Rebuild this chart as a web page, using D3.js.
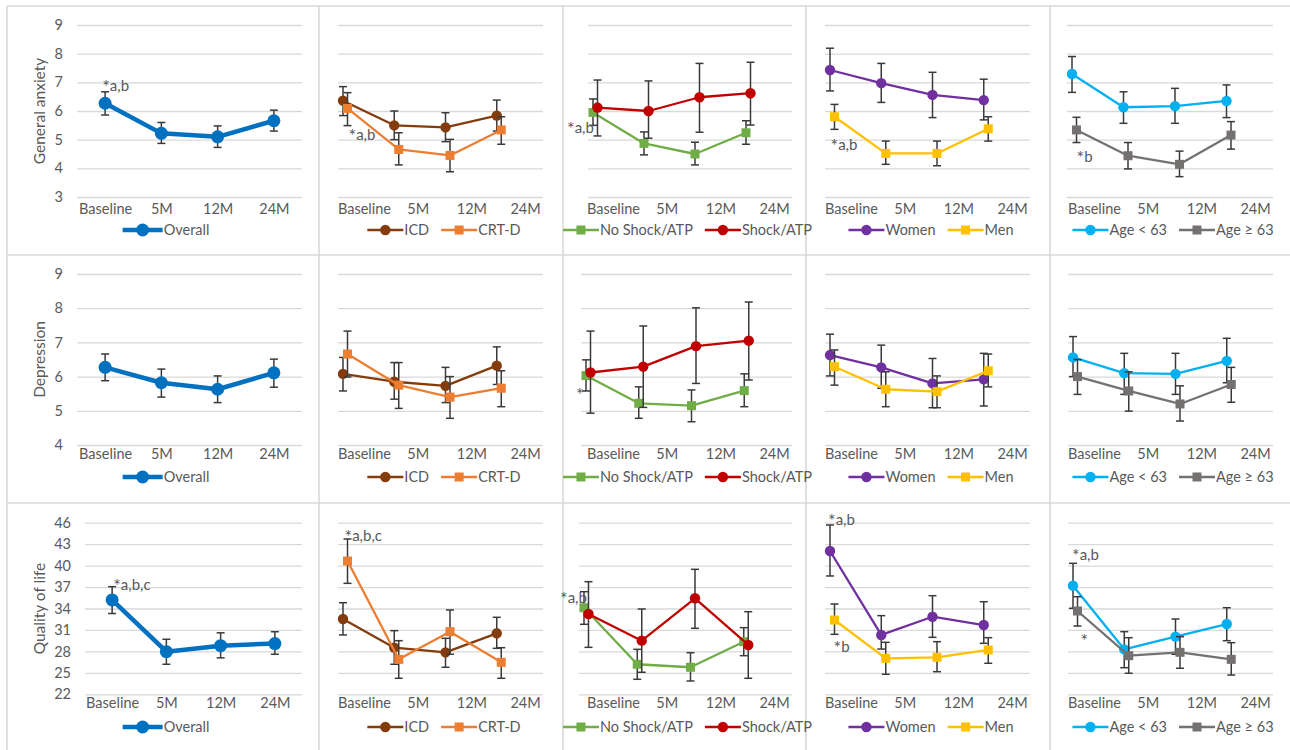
<!DOCTYPE html>
<html>
<head>
<meta charset="utf-8">
<script src="https://cdn.jsdelivr.net/npm/d3@7"></script>
<style>
  body { margin: 0; background: #fff; }
  text { font-family: Lato, "Open Sans", sans-serif; fill: #595959; }
</style>
</head>
<body>
<svg id="chart" width="1290" height="750"></svg>
<script>
const categories = ["Baseline", "5M", "12M", "24M"];
const outcomes = ["General anxiety", "Depression", "Quality of life"];
const yDomains = [[3, 9], [4, 9], [22, 46]];
const yStep = [1, 1, 3];
const groups = [
  ["Overall"],
  ["ICD", "CRT-D"],
  ["No Shock/ATP", "Shock/ATP"],
  ["Women", "Men"],
  ["Age < 63", "Age \u2265 63"]
];

// [series, mean, lower, upper]
const anxiety = [
  ["Overall",      [6.27, 5.22, 5.10, 5.66], [5.86, 4.87, 4.73, 5.30], [6.67, 5.60, 5.48, 6.03]],
  ["ICD",          [6.36, 5.50, 5.43, 5.84], [5.84, 5.00, 4.93, 5.30], [6.85, 6.00, 5.94, 6.38]],
  ["CRT-D",        [6.09, 4.66, 4.45, 5.34], [5.49, 4.12, 3.88, 4.84], [6.64, 5.24, 5.01, 5.80]],
  ["No Shock/ATP", [5.95, 4.87, 4.50, 5.24], [5.50, 4.47, 4.12, 4.84], [6.42, 5.27, 4.91, 5.66]],
  ["Shock/ATP",    [6.12, 6.00, 6.48, 6.62], [5.13, 5.05, 5.26, 5.51], [7.08, 7.05, 7.66, 7.70]],
  ["Women",        [7.43, 6.97, 6.56, 6.38], [6.70, 6.30, 5.77, 5.69], [8.19, 7.66, 7.35, 7.11]],
  ["Men",          [5.80, 4.52, 4.52, 5.38], [5.36, 4.14, 4.09, 4.95], [6.23, 4.95, 4.95, 5.80]],
  ["Age < 63",     [7.29, 6.13, 6.17, 6.35], [6.65, 5.57, 5.57, 5.77], [7.90, 6.67, 6.79, 6.91]],
  ["Age \u2265 63",[5.34, 4.44, 4.14, 5.16], [4.90, 3.98, 3.71, 4.67], [5.78, 4.90, 4.60, 5.63]]
];

const depression = [
  ["Overall",      [6.27, 5.82, 5.63, 6.11], [5.88, 5.40, 5.24, 5.69], [6.66, 6.22, 6.02, 6.51]],
  ["ICD",          [6.08, 5.85, 5.73, 6.32], [5.58, 5.34, 5.24, 5.77], [6.56, 6.41, 6.27, 6.87]],
  ["CRT-D",        [6.66, 5.75, 5.40, 5.66], [5.99, 5.07, 4.78, 5.12], [7.33, 6.41, 6.00, 6.17]],
  ["No Shock/ATP", [6.03, 5.22, 5.15, 5.59], [5.58, 4.78, 4.68, 5.12], [6.49, 5.70, 5.61, 6.08]],
  ["Shock/ATP",    [6.12, 6.29, 6.89, 7.05], [4.93, 5.10, 5.80, 5.90], [7.33, 7.48, 8.01, 8.18]],
  ["Women",        [6.63, 6.27, 5.80, 5.92], [6.02, 5.66, 5.09, 5.14], [7.24, 6.92, 6.53, 6.68]],
  ["Men",          [6.29, 5.63, 5.56, 6.17], [5.75, 5.12, 5.09, 5.70], [6.78, 6.14, 6.02, 6.66]],
  ["Age < 63",     [6.56, 6.10, 6.08, 6.46], [6.00, 5.48, 5.48, 5.82], [7.17, 6.68, 6.68, 7.12]],
  ["Age \u2265 63",[6.00, 5.58, 5.20, 5.77], [5.48, 4.99, 4.70, 5.25], [6.50, 6.14, 5.73, 6.27]]
];

const qualityOfLife = [
  ["Overall",      [35.2, 27.96, 28.8, 29.1],   [33.3, 26.2, 27.1, 27.6],    [37.05, 29.7, 30.6, 30.75]],
  ["ICD",          [32.53, 28.52, 27.87, 30.53], [30.3, 26.2, 25.78, 28.43], [34.81, 30.9, 29.83, 32.77]],
  ["CRT-D",        [40.64, 26.89, 30.76, 26.47], [37.52, 24.24, 27.6, 24.24], [43.72, 29.5, 33.79, 28.52]],
  ["No Shock/ATP", [34.11, 26.2, 25.78, 29.36], [31.79, 24.1, 23.86, 27.4],  [36.35, 28.29, 27.82, 31.32]],
  ["Shock/ATP",    [33.23, 29.5, 35.43, 28.9],  [28.57, 25.08, 31.23, 24.24], [37.75, 33.93, 39.48, 33.55]],
  ["Women",        [42.04, 30.3, 32.85, 31.69], [38.55, 28.33, 29.97, 29.13], [45.68, 33.0, 35.79, 34.95]],
  ["Men",          [32.39, 27.03, 27.17, 28.2], [30.39, 24.8, 25.16, 26.34], [34.63, 29.27, 29.36, 29.92]],
  ["Age < 63",     [37.19, 28.29, 30.06, 31.83], [34.03, 25.72, 27.6, 29.5], [40.32, 30.76, 32.53, 34.11]],
  ["Age \u2265 63",[33.65, 27.4, 27.87, 26.89], [31.55, 24.94, 25.64, 24.69], [35.65, 29.92, 30.06, 29.22]]
];

// significance notes: [row, col, series, category, superscript letters]
const notes = [
  [0, 0, "Overall", "Baseline", "a,b"],
  [0, 1, "CRT-D", "Baseline", "a,b"],
  [0, 2, "No Shock/ATP", "Baseline", "a,b"],
  [0, 3, "Men", "Baseline", "a,b"],
  [0, 4, "Age \u2265 63", "Baseline", "b"],
  [1, 2, "No Shock/ATP", "Baseline", ""],
  [2, 0, "Overall", "Baseline", "a,b,c"],
  [2, 1, "CRT-D", "Baseline", "a,b,c"],
  [2, 2, "No Shock/ATP", "Baseline", "a,b"],
  [2, 3, "Women", "Baseline", "a,b"],
  [2, 3, "Men", "Baseline", "b"],
  [2, 4, "Age < 63", "Baseline", "a,b"],
  [2, 4, "Age \u2265 63", "Baseline", ""]
];

// ---- layout (not data) ----
const noteOffsets = [[-3, -12], [1, 32], [-26, 21], [-4, 33], [0, 32], [-10, 23],
                     [1, -10], [-3, -20], [-24, -5], [-2, -26], [-1, 32], [-1, -26], [3, 34]];
const colors = {
  "Overall": "#0070C0", "ICD": "#843C0C", "CRT-D": "#ED7D31",
  "No Shock/ATP": "#70AD47", "Shock/ATP": "#C00000",
  "Women": "#7030A0", "Men": "#FFC000",
  "Age < 63": "#00B0F0", "Age \u2265 63": "#767171"
};
const squares = ["CRT-D", "No Shock/ATP", "Men", "Age \u2265 63"];
const cellX = [7, 319, 563, 806, 1050, 1290];
const cellY = [6, 255, 503, 750];
const plotTop = [25, 274, 522.7];
const plotBottom = [197, 445, 694.3];
const plotLeft = [[77, 338, 588, 825, 1067], [77, 338, 581, 825, 1068], [85, 338, 579, 825, 1068]];
const plotRight = [302, 543, 792, 1030, 1273];
const labelY = [209, 454, 703];
const legendY = [230, 477, 727];

const svg = d3.select("#chart");

// cell borders
svg.append("g").selectAll("line").data(cellX.slice(0, 5)).join("line")
  .attr("x1", d => d).attr("x2", d => d).attr("y1", cellY[0]).attr("y2", 750)
  .attr("stroke", "#d9d9d9").attr("stroke-width", 1.6);
svg.append("g").selectAll("line").data(cellY.slice(0, 3)).join("line")
  .attr("x1", cellX[0]).attr("x2", 1290).attr("y1", d => d).attr("y2", d => d)
  .attr("stroke", "#d9d9d9").attr("stroke-width", 1.6);

const datasets = [anxiety, depression, qualityOfLife];

function drawMarker(sel, name, big) {
  const c = colors[name];
  if (squares.includes(name)) {
    const s = 9;
    sel.append("rect").attr("x", -s / 2).attr("y", -s / 2).attr("width", s).attr("height", s)
      .attr("fill", c);
  } else {
    sel.append("circle").attr("r", big ? 6.5 : 5.2).attr("fill", c);
  }
}

datasets.forEach((rows, r) => {
  const y = d3.scaleLinear().domain(yDomains[r]).range([plotBottom[r], plotTop[r]]);
  const ticks = d3.range(yDomains[r][0], yDomains[r][1] + 0.001, yStep[r]);

  groups.forEach((names, c) => {
    const L = plotLeft[r][c], R = plotRight[c], W = R - L;
    const g = svg.append("g");
    const big = c === 0;

    // gridlines + y labels
    const yAxis = g.append("g")
      .attr("transform", `translate(${L},0)`)
      .call(d3.axisLeft(y).tickValues(ticks).tickSize(-W).tickPadding(14)
        .tickFormat(c === 0 ? d3.format("d") : () => ""));
    yAxis.select(".domain").remove();
    yAxis.selectAll("line").attr("stroke", "#d9d9d9").attr("stroke-width", 1.3);
    yAxis.selectAll("text").style("font-size", "14.5px").attr("fill", "#595959");

    if (c === 0) {
      g.append("text")
        .attr("transform", `translate(40,${(plotTop[r] + plotBottom[r]) / 2}) rotate(-90)`)
        .attr("text-anchor", "middle").attr("dy", "0.35em")
        .style("font-size", "15.5px")
        .text(outcomes[r]);
    }

    // category labels
    const xLab = c === 0
      ? d3.scalePoint().domain(categories).range([L + W / 8, R - W / 8])
      : d3.scalePoint().domain(categories).range([R - 179, R - 179 + 3 * 53.7]);
    const xAxis = g.append("g")
      .attr("transform", `translate(0,${plotBottom[r]})`)
      .call(d3.axisBottom(xLab).tickSize(0).tickPadding(labelY[r] - plotBottom[r] - 5));
    xAxis.select(".domain").remove();
    xAxis.selectAll("text").style("font-size", "14.5px").attr("fill", "#595959");

    // series
    names.forEach((name, s) => {
      const row = rows.find(d => d[0] === name);
      const start = c === 0 ? L + W / 8 : L + 5 + 4.5 * s;
      const x = d3.scalePoint().domain(categories).range([start, start + 3 * W / 4]);
      const pts = categories.map((cat, i) => ({ cat, m: row[1][i], lo: row[2][i], hi: row[3][i] }));
      const sg = g.append("g");

      const eb = sg.append("g").attr("stroke", "#3a3a3a").attr("stroke-width", 1.5);
      pts.forEach(p => {
        const px = x(p.cat);
        eb.append("line").attr("x1", px).attr("x2", px).attr("y1", y(p.lo)).attr("y2", y(p.hi));
        eb.append("line").attr("x1", px - 4).attr("x2", px + 4).attr("y1", y(p.lo)).attr("y2", y(p.lo));
        eb.append("line").attr("x1", px - 4).attr("x2", px + 4).attr("y1", y(p.hi)).attr("y2", y(p.hi));
      });

      sg.append("path").datum(pts)
        .attr("d", d3.line().x(d => x(d.cat)).y(d => y(d.m)))
        .attr("fill", "none").attr("stroke", colors[name])
        .attr("stroke-width", big ? 4.5 : 2.3).attr("stroke-linejoin", "round");

      sg.selectAll("g.mk").data(pts).join("g").attr("class", "mk")
        .attr("transform", d => `translate(${x(d.cat)},${y(d.m)})`)
        .each(function () { drawMarker(d3.select(this), name, big); });

      notes.forEach((n, k) => {
        if (n[0] === r && n[1] === c && n[2] === name) {
          const p = pts.find(q => q.cat === n[3]);
          const t = g.append("text")
            .attr("x", x(n[3]) + noteOffsets[k][0])
            .attr("y", y(p.m) + noteOffsets[k][1])
            .attr("fill", "#404040");
          t.append("tspan").style("font-size", "18px").attr("dy", "2").text("*");
          t.append("tspan").style("font-size", "15px").attr("dy", "-2").text(n[4]);
        }
      });
    });

    // legend
    const lg = g.append("g");
    let cx = 0;
    names.forEach(name => {
      const item = lg.append("g").attr("transform", `translate(${cx},0)`);
      const len = big ? 40 : 36;
      item.append("line").attr("x1", 0).attr("x2", len).attr("y1", 0).attr("y2", 0)
        .attr("stroke", colors[name]).attr("stroke-width", big ? 4.5 : 2.3);
      drawMarker(item.append("g").attr("transform", `translate(${len / 2},0)`), name, big);
      const t = item.append("text").attr("x", len + 1).attr("dy", "0.35em")
        .style("font-size", "14.5px").text(name);
      cx += len + 1 + t.node().getComputedTextLength() + 12;
    });
    cx -= 12;
    const mid = (cellX[c] + cellX[c + 1]) / 2 + 3;
    lg.attr("transform", `translate(${mid - cx / 2},${legendY[r]})`);
  });
});
</script>
</body>
</html>
